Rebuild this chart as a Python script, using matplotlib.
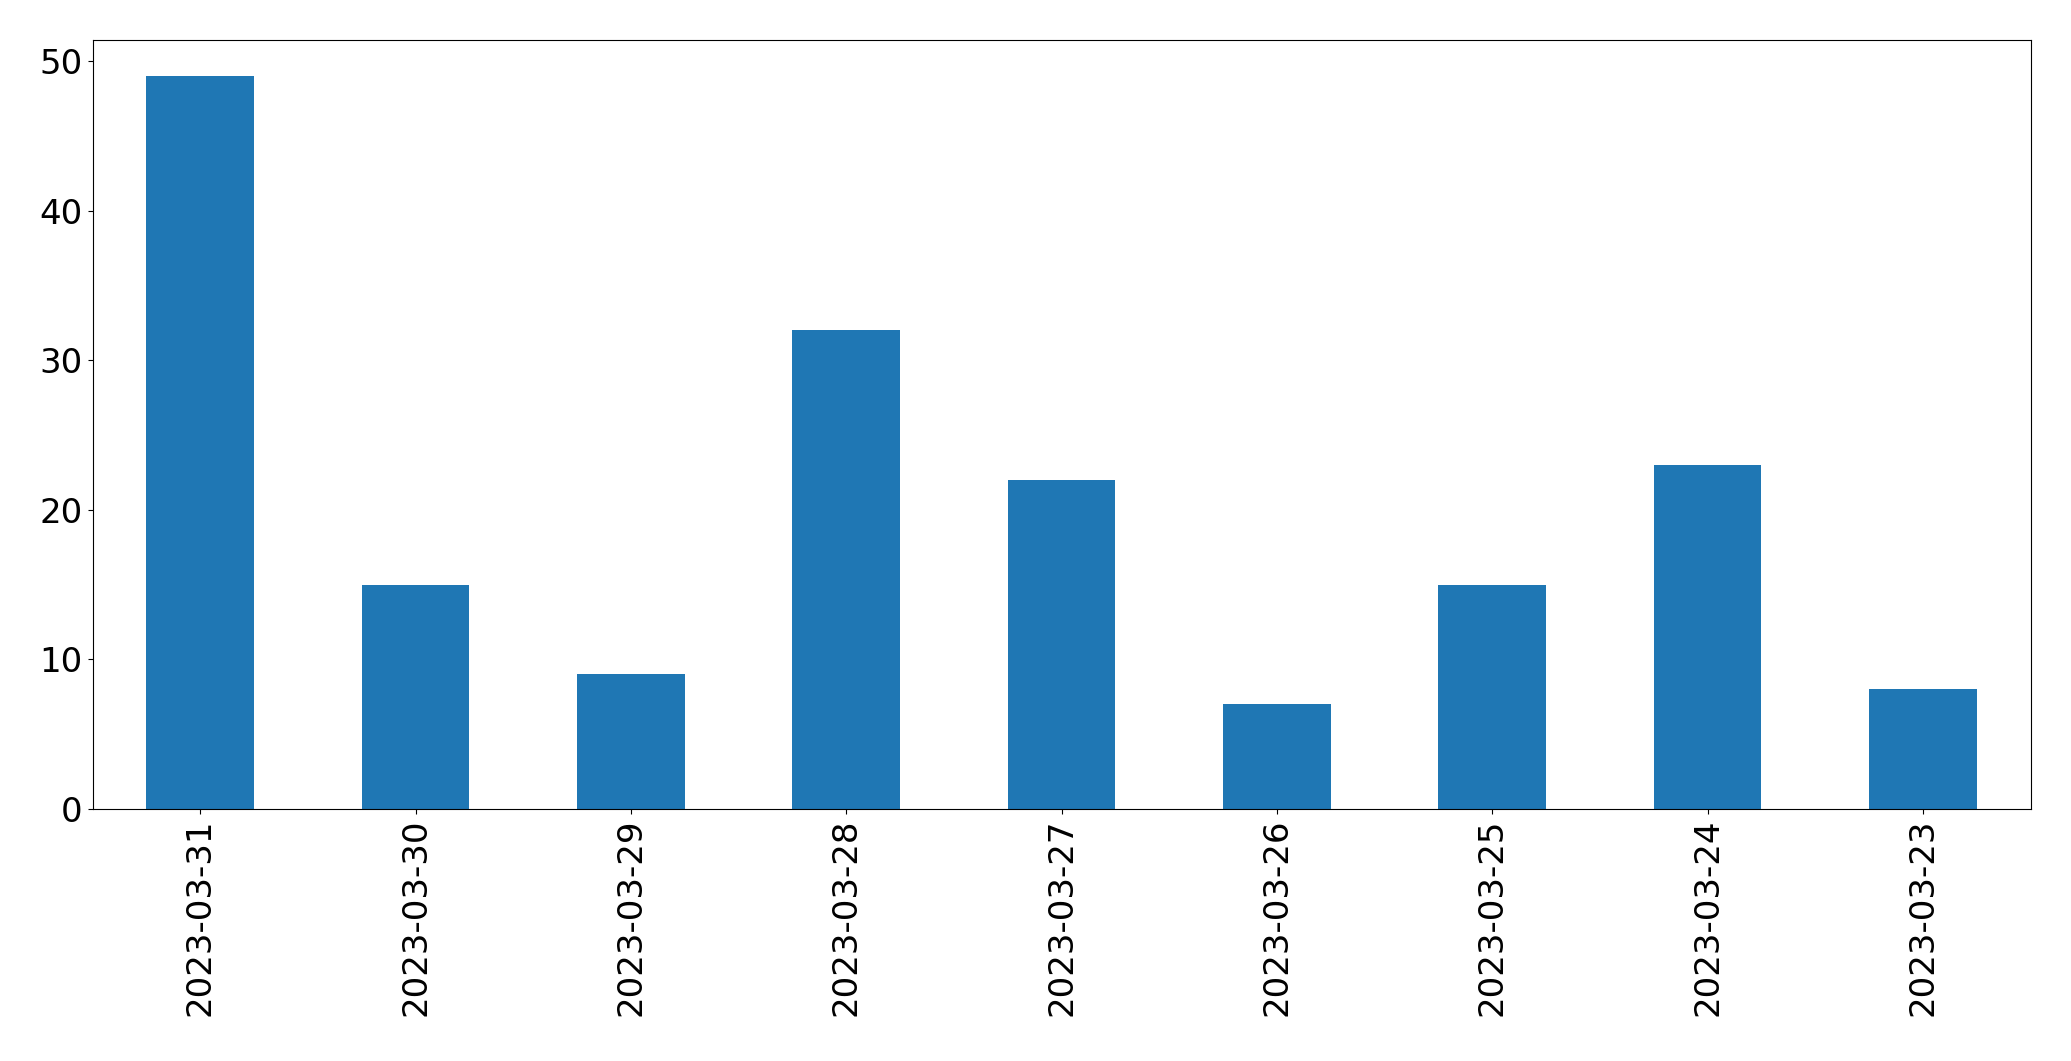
import matplotlib
matplotlib.use("Agg")
import matplotlib.pyplot as plt
import pandas as pd

dates = ["2023-03-31", "2023-03-30", "2023-03-29", "2023-03-28", "2023-03-27",
         "2023-03-26", "2023-03-25", "2023-03-24", "2023-03-23"]
counts = [49, 15, 9, 32, 22, 7, 15, 23, 8]

s = pd.Series(counts, index=dates)

fig, ax = plt.subplots(figsize=(20.71, 10.61), dpi=100)
s.plot(kind="bar", ax=ax, color="#1f77b4", fontsize=24.5)
plt.subplots_adjust(left=0.0447, right=0.9805, top=0.9625, bottom=0.2378)
fig.savefig("out.png", dpi=100)
